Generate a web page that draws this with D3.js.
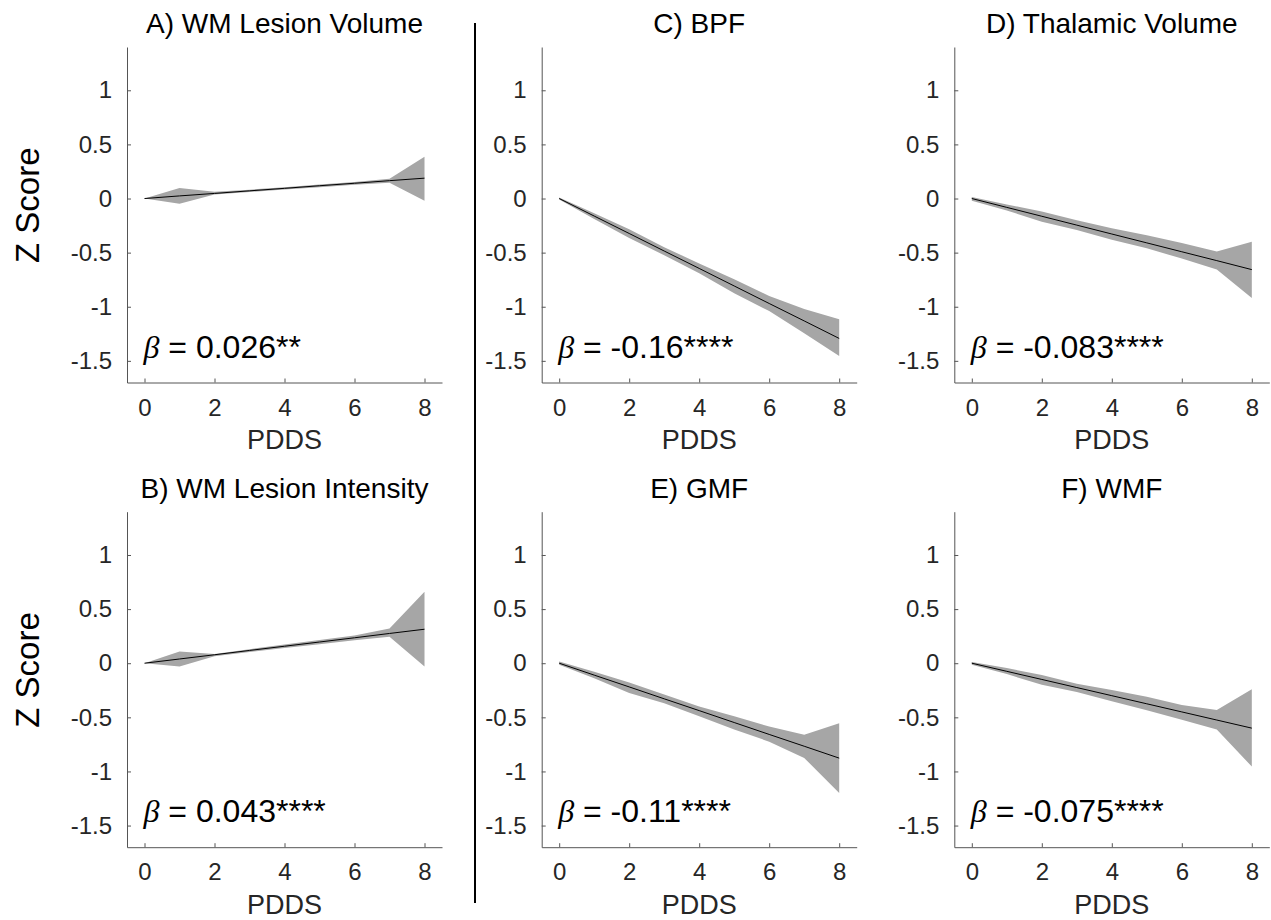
<!DOCTYPE html>
<html>
<head>
<meta charset="utf-8">
<script src="https://cdn.jsdelivr.net/npm/d3@7"></script>
<style>
  body { margin: 0; background: #fff; }
  text { font-family: "Liberation Sans", Arial, sans-serif; }
</style>
</head>
<body>
<div id="chart"></div>
<script>
// Data
const pdds = [0, 1, 2, 3, 4, 5, 6, 7, 8];
const xTicks = [0, 2, 4, 6, 8];
const yTicks = [-1.5, -1, -0.5, 0, 0.5, 1];
const titles = ["A) WM Lesion Volume", "B) WM Lesion Intensity", "C) BPF", "D) Thalamic Volume", "E) GMF", "F) WMF"];
const betas = ["0.026", "0.043", "-0.16", "-0.083", "-0.11", "-0.075"];
const stars = ["**", "****", "****", "****", "****", "****"];

const lineA = [0, 0.024, 0.047, 0.071, 0.094, 0.118, 0.141, 0.165, 0.188];
const hiA   = [0, 0.097, 0.062, 0.082, 0.105, 0.130, 0.152, 0.183, 0.385];
const loA   = [0, -0.048, 0.036, 0.060, 0.083, 0.105, 0.128, 0.145, -0.020];

const lineB = [0, 0.039, 0.078, 0.118, 0.157, 0.196, 0.235, 0.275, 0.314];
const hiB   = [0, 0.108, 0.085, 0.130, 0.172, 0.215, 0.255, 0.320, 0.660];
const loB   = [0, -0.030, 0.065, 0.103, 0.140, 0.175, 0.213, 0.245, -0.030];

const lineC = [0, -0.162, -0.323, -0.485, -0.646, -0.808, -0.970, -1.131, -1.293];
const hiC   = [0.010, -0.135, -0.285, -0.450, -0.600, -0.745, -0.900, -1.020, -1.115];
const loC   = [-0.010, -0.190, -0.365, -0.525, -0.690, -0.875, -1.040, -1.245, -1.455];

const lineD = [0, -0.082, -0.164, -0.246, -0.328, -0.410, -0.492, -0.574, -0.657];
const hiD   = [0.015, -0.055, -0.120, -0.200, -0.275, -0.340, -0.410, -0.490, -0.400];
const loD   = [-0.020, -0.110, -0.215, -0.290, -0.380, -0.460, -0.555, -0.655, -0.920];

const lineE = [0, -0.110, -0.219, -0.329, -0.438, -0.548, -0.658, -0.767, -0.877];
const hiE   = [0.015, -0.080, -0.178, -0.290, -0.400, -0.490, -0.585, -0.660, -0.555];
const loE   = [-0.015, -0.140, -0.275, -0.370, -0.490, -0.612, -0.725, -0.875, -1.200];

const lineF = [0, -0.075, -0.150, -0.225, -0.300, -0.375, -0.450, -0.525, -0.600];
const hiF   = [0.012, -0.045, -0.108, -0.190, -0.248, -0.310, -0.385, -0.432, -0.240];
const loF   = [-0.015, -0.100, -0.200, -0.265, -0.352, -0.435, -0.522, -0.612, -0.955];

const width = 1271;
const height = 920;

const svg = d3.select("#chart")
    .append("svg")
    .attr("width", width)
    .attr("height", height);

// panel layout: column left edge, row top edge
const colLeft = [127, 541.7, 954.3];
const rowTop = [47, 511.7];
const pw = 315;
const ph = 335.5;

const panels = [
    { col: 0, row: 0, line: lineA, hi: hiA, lo: loA, idx: 0, ylab: true },
    { col: 0, row: 1, line: lineB, hi: hiB, lo: loB, idx: 1, ylab: true },
    { col: 1, row: 0, line: lineC, hi: hiC, lo: loC, idx: 2 },
    { col: 2, row: 0, line: lineD, hi: hiD, lo: loD, idx: 3 },
    { col: 1, row: 1, line: lineE, hi: hiE, lo: loE, idx: 4 },
    { col: 2, row: 1, line: lineF, hi: hiF, lo: loF, idx: 5 }
];

panels.forEach(function (p) {
    const left = colLeft[p.col];
    const top = rowTop[p.row];

    const x = d3.scaleLinear().domain([-0.5, 8.5]).range([left, left + pw]);
    const y = d3.scaleLinear().domain([-1.7, 1.4]).range([top + ph, top]);

    const g = svg.append("g");

    // confidence band
    const area = d3.area()
        .x((d, i) => x(pdds[i]))
        .y0((d, i) => y(p.lo[i]))
        .y1((d, i) => y(p.hi[i]));
    g.append("path")
        .datum(p.line)
        .attr("d", area)
        .attr("fill", "#a6a6a6")
        .attr("stroke", "none");

    // fit line
    const line = d3.line()
        .x((d, i) => x(pdds[i]))
        .y(d => y(d));
    g.append("path")
        .datum(p.line)
        .attr("d", line)
        .attr("fill", "none")
        .attr("stroke", "#000")
        .attr("stroke-width", 1);

    // axes
    const yAxis = g.append("g")
        .attr("transform", `translate(${left},0)`)
        .call(d3.axisLeft(y).tickValues(yTicks).tickSizeInner(-4).tickSizeOuter(0)
            .tickPadding(15).tickFormat(d => String(d)));
    const xAxis = g.append("g")
        .attr("transform", `translate(0,${top + ph})`)
        .call(d3.axisBottom(x).tickValues(xTicks).tickSizeInner(-4).tickSizeOuter(0)
            .tickPadding(16).tickFormat(d => String(d)));

    [yAxis, xAxis].forEach(function (a) {
        a.attr("font-size", 24).attr("font-family", null);
        a.select(".domain").attr("stroke", "#555");
        a.selectAll(".tick line").attr("stroke", "#555");
        a.selectAll(".tick text").attr("fill", "#262626");
    });

    // title
    g.append("text")
        .attr("x", left + pw / 2)
        .attr("y", top - 14)
        .attr("text-anchor", "middle")
        .style("font-size", "28px")
        .attr("fill", "#000")
        .text(titles[p.idx]);

    // x label
    g.append("text")
        .attr("x", left + pw / 2)
        .attr("y", top + ph + 66.5)
        .attr("text-anchor", "middle")
        .style("font-size", "27px")
        .attr("fill", "#262626")
        .text("PDDS");

    // y label
    if (p.ylab) {
        g.append("text")
            .attr("transform", `translate(39,${top + ph / 2 - 9.5}) rotate(-90)`)
            .attr("text-anchor", "middle")
            .style("font-size", "33px")
            .attr("fill", "#000")
            .text("Z Score");
    }

    // beta annotation
    const t = g.append("text")
        .attr("x", x(0) - 1)
        .attr("y", y(-1.47))
        .style("font-size", "32px")
        .attr("fill", "#000");
    t.append("tspan")
        .style("font-family", "'Liberation Serif', 'Times New Roman', serif")
        .style("font-style", "italic")
        .text("\u03B2");
    t.append("tspan")
        .text(" = " + betas[p.idx] + stars[p.idx]);
});

// divider between column 1 and the others
svg.append("line")
    .attr("x1", 475).attr("x2", 475)
    .attr("y1", 23).attr("y2", 903)
    .attr("stroke", "#000")
    .attr("stroke-width", 2);
</script>
</body>
</html>
